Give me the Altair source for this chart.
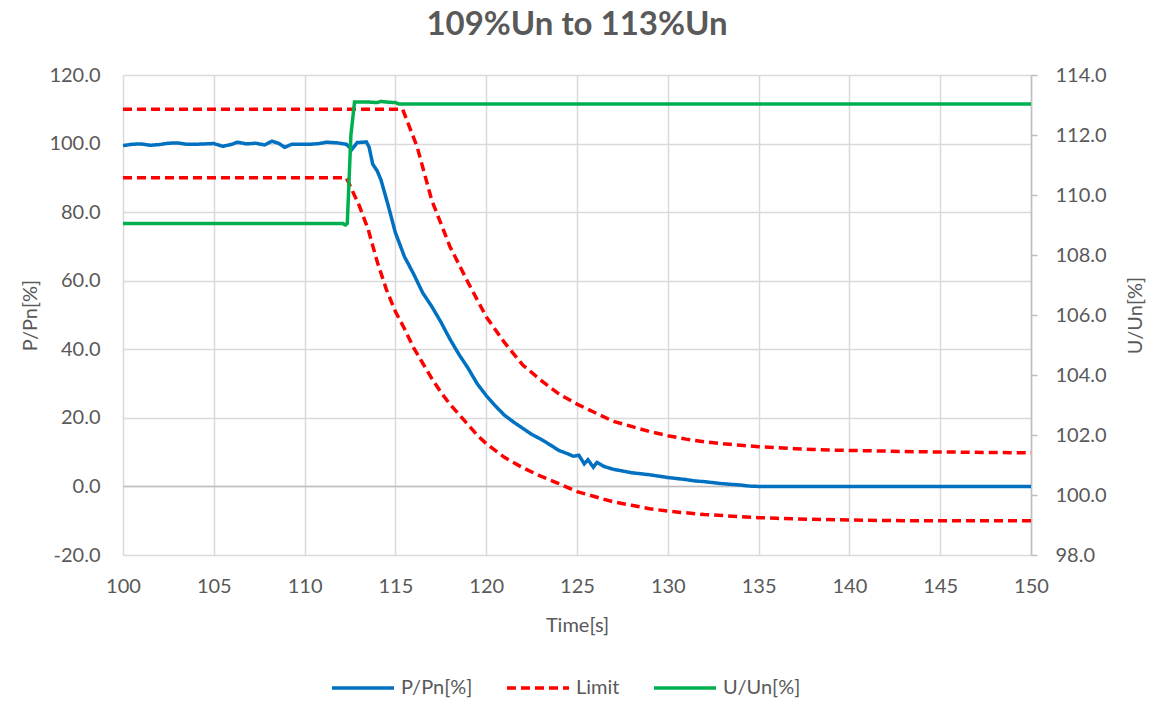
import altair as alt
import pandas as pd

# ---------------- data ----------------
p_time = [100.0, 100.5, 101.0, 101.5, 102.0, 102.5, 103.0, 103.5, 104.0, 104.5,
          105.0, 105.5, 106.0, 106.3, 106.8, 107.3, 107.8, 108.2, 108.6, 108.9,
          109.3, 109.8, 110.3, 110.8, 111.2, 111.8, 112.3, 112.6, 112.9, 113.2,
          113.4, 113.55, 113.75, 114.0, 114.2, 114.6, 115.0, 115.5, 116.0, 116.5,
          117.0, 117.5, 118.0, 118.5, 119.0, 119.5, 120.0, 120.5, 121.0, 121.5,
          122.0, 122.5, 123.0, 123.5, 124.0, 124.5, 124.8, 125.1, 125.4, 125.6,
          125.9, 126.1, 126.5, 127.0, 127.5, 128.0, 128.5, 129.0, 129.5, 130.0,
          130.5, 131.0, 131.5, 132.0, 132.5, 133.0, 133.5, 134.0, 134.5, 135.0,
          150.0]
p_value = [99.4, 99.8, 99.9, 99.5, 99.7, 100.1, 100.2, 99.8, 99.8, 99.9,
           100.0, 99.2, 99.8, 100.4, 99.9, 100.1, 99.6, 100.7, 100.0, 98.9,
           99.8, 99.8, 99.8, 100.0, 100.4, 100.2, 99.8, 98.3, 100.3, 100.4,
           100.5, 99.0, 94.0, 92.0, 89.5, 82.0, 74.0, 67.0, 62.0, 56.5,
           52.5, 48.0, 43.0, 38.5, 34.5, 30.0, 26.5, 23.5, 20.8, 18.8,
           17.0, 15.2, 13.8, 12.2, 10.5, 9.5, 8.8, 9.1, 6.6, 7.8,
           5.6, 7.0, 5.8, 5.0, 4.5, 4.0, 3.7, 3.4, 3.0, 2.6,
           2.3, 2.0, 1.6, 1.4, 1.1, 0.8, 0.6, 0.4, 0.1, 0.0,
           0.0]

upper_time = [100.0, 115.4, 116.2, 117.0, 118.0, 119.0, 120.0, 121.0, 122.0, 123.0,
              124.0, 125.0, 126.0, 127.0, 128.0, 129.0, 130.0, 131.0, 132.0, 133.0,
              134.0, 135.0, 136.0, 137.0, 138.0, 139.0, 140.0, 142.0, 144.0, 146.0,
              148.0, 150.0]
upper_value = [110.0, 110.0, 99.0, 83.5, 70.0, 59.5, 49.5, 42.0, 35.5, 31.0,
               27.0, 24.0, 21.5, 19.0, 17.5, 16.0, 14.8, 13.8, 13.0, 12.5,
               12.0, 11.6, 11.3, 11.0, 10.8, 10.6, 10.5, 10.3, 10.1, 10.0,
               9.9, 9.8]

lower_time = [100.0, 112.3, 113.0, 113.5, 114.0, 114.5, 115.0, 115.5, 116.0, 116.5,
              117.0, 117.5, 118.0, 118.5, 119.0, 119.5, 120.0, 121.0, 122.0, 123.0,
              124.0, 125.0, 126.0, 127.0, 128.0, 129.0, 130.0, 131.0, 132.0, 133.0,
              134.0, 135.0, 136.0, 138.0, 140.0, 143.0, 150.0]
lower_value = [90.0, 90.0, 82.0, 75.0, 65.5, 57.5, 51.0, 46.0, 40.5, 36.0,
               31.5, 27.5, 24.0, 21.0, 18.0, 15.0, 12.5, 8.5, 5.5, 3.0,
               0.8, -1.5, -3.0, -4.5, -5.5, -6.5, -7.2, -7.7, -8.2, -8.5,
               -8.8, -9.1, -9.3, -9.6, -9.8, -10.0, -10.0]

u_time = [100.0, 112.1, 112.25, 112.35, 112.55, 112.75, 113.5, 114.0, 114.2, 114.5,
          115.0, 115.2, 150.0]
u_value = [109.05, 109.05, 109.0, 109.05, 112.0, 113.1, 113.1, 113.08, 113.12, 113.1,
           113.08, 113.03, 113.03]

x_ticks = [100, 105, 110, 115, 120, 125, 130, 135, 140, 145, 150]
left_ticks = [-20, 0, 20, 40, 60, 80, 100, 120]
right_ticks = [98, 100, 102, 104, 106, 108, 110, 112, 114]
zero_line = [0]

series_names = ["P/Pn[%]", "Limit", "U/Un[%]"]
series_colors = ["#0070C0", "#FF0000", "#00B050"]
series_dash = [[1, 0], [9, 5], [1, 0]]

# ---------------- tables ----------------
left_df = pd.concat([
    pd.DataFrame({"t": p_time, "v": p_value, "series": "P/Pn[%]", "line": "p"}),
    pd.DataFrame({"t": upper_time, "v": upper_value, "series": "Limit", "line": "upper"}),
    pd.DataFrame({"t": lower_time, "v": lower_value, "series": "Limit", "line": "lower"}),
], ignore_index=True)
right_df = pd.DataFrame({"t": u_time, "v": u_value, "series": "U/Un[%]", "line": "u"})
zero_df = pd.DataFrame({"z": zero_line})

FONT = "Lato"
GREY = "#595959"
GRID = "#d9d9d9"
HYPHEN_FMT = "(datum.value < 0 ? '-' : '') + format(abs(datum.value), '.1f')"

legend = alt.Legend(
    title=None, orient="none", direction="horizontal",
    legendX=207, legendY=580,
    symbolType="stroke", symbolSize=3844, symbolStrokeWidth=3.5,
    labelFontSize=20, labelFont=FONT, labelColor=GREY, labelOffset=5,
    columnPadding=27, padding=0,
)

color = alt.Color("series:N", scale=alt.Scale(domain=series_names, range=series_colors),
                  legend=legend)
dash = alt.StrokeDash("series:N", scale=alt.Scale(domain=series_names, range=series_dash),
                      legend=legend)

x_enc = alt.X("t:Q", scale=alt.Scale(domain=[100, 150], nice=False, zero=False),
              axis=alt.Axis(values=x_ticks, title="Time[s]", format="d",
                            grid=True, gridColor=GRID, gridWidth=1.5,
                            domain=False, ticks=False, tickSize=0, labelPadding=21,
                            labelFlush=False, labelOverlap=False,
                            titleY=70, titleBaseline="middle"))

y_left = alt.Y("v:Q", scale=alt.Scale(domain=[-20, 120], nice=False, zero=False),
               axis=alt.Axis(values=left_ticks, labelExpr=HYPHEN_FMT, title="P/Pn[%]",
                             grid=True, gridColor=GRID, gridWidth=1.5,
                             domain=False, ticks=False, tickSize=0, labelPadding=23,
                             labelFlush=False, labelOverlap=False,
                             titleAngle=270, titleX=-93, titleY=240,
                             titleAlign="center", titleBaseline="middle"))

y_right = alt.Y("v:Q", scale=alt.Scale(domain=[98, 114], nice=False, zero=False),
                axis=alt.Axis(orient="right", values=right_ticks, format=".1f",
                              title="U/Un[%]", grid=False,
                              domain=True, domainColor="#bfbfbf", domainWidth=1.5,
                              ticks=True, tickColor="#bfbfbf", tickSize=6, tickWidth=1.5,
                              labelPadding=18, labelFlush=False, labelOverlap=False,
                              titleAngle=270, titleX=104, titleY=240,
                              titleAlign="center", titleBaseline="middle"))

left_lines = alt.Chart(left_df).mark_line(strokeWidth=3.5, strokeCap="butt").encode(
    x=x_enc, y=y_left, color=color, strokeDash=dash, detail="line:N",
    order="t:Q",
)

zero_rule = alt.Chart(zero_df).mark_rule(color="#bfbfbf", strokeWidth=1.5).encode(
    y=alt.Y("z:Q")
)

left = alt.layer(zero_rule, left_lines)

right = alt.Chart(right_df).mark_line(strokeWidth=3.5).encode(
    x=x_enc, y=y_right, color=color, strokeDash=dash, detail="line:N",
    order="t:Q",
)

chart = alt.layer(left, right).resolve_scale(y="independent").properties(
    width=908, height=480,
    autosize=alt.AutoSizeParams(type="none"),
    padding={"left": 115, "top": 67, "right": 117, "bottom": 144},
    title=alt.Title("109%Un to 113%Un", anchor="middle", fontSize=33,
                    fontWeight="bold", color=GREY, font=FONT, offset=23),
).configure_view(stroke=None).configure_axis(
    labelFont=FONT, labelFontSize=20, labelColor=GREY,
    titleFont=FONT, titleFontSize=20, titleColor=GREY, titleFontWeight="normal",
)

chart.save("out.html", embed_options={"renderer": "svg", "actions": False})
